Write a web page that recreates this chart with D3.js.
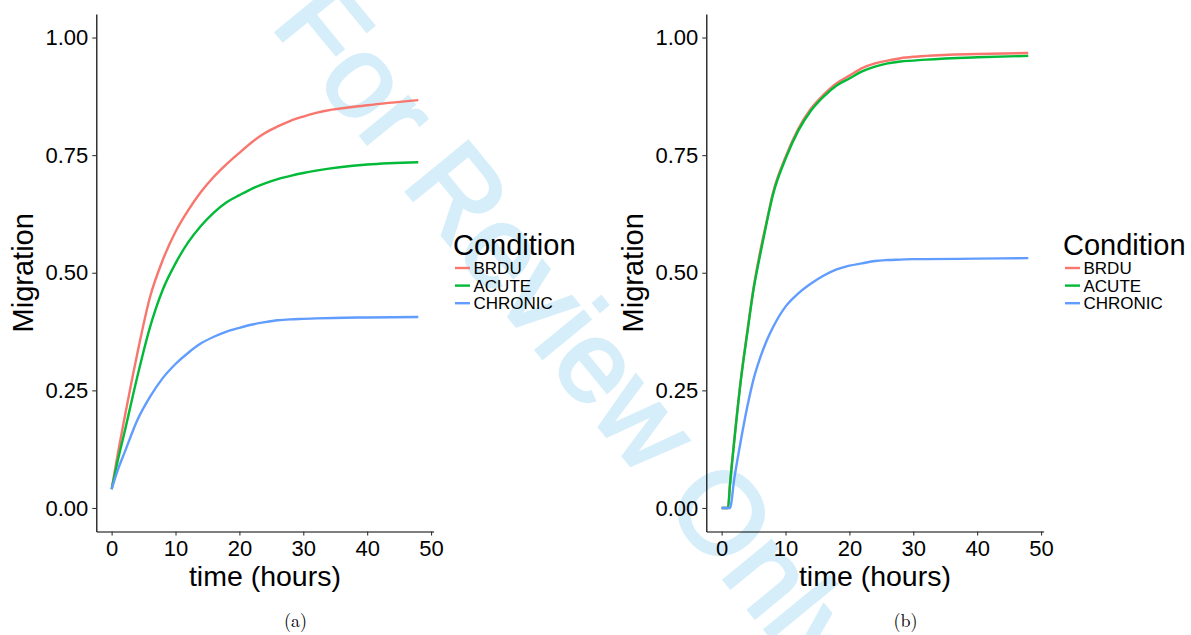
<!DOCTYPE html>
<html>
<head>
<meta charset="utf-8">
<script src="https://cdn.jsdelivr.net/npm/d3@7"></script>
<style>
  html, body { margin: 0; padding: 0; background: #fff; }
  svg { display: block; }
</style>
</head>
<body>
<script>
// ---------------- data ----------------
const conditions = ["BRDU", "ACUTE", "CHRONIC"];
const colors = ["#F8766D", "#00BA38", "#619CFF"];

// panel (a)
const timesA   = [0, 1, 2, 4, 6, 8, 10, 12, 14, 16, 18, 20, 22, 24, 26, 28, 30, 32, 40, 48];
const brduA    = [0.04, 0.118, 0.19, 0.327, 0.448, 0.527, 0.587, 0.633, 0.672, 0.704, 0.731, 0.755, 0.778, 0.797, 0.811, 0.823, 0.832, 0.840, 0.856, 0.867];
const acuteA   = [0.04, 0.103, 0.160, 0.278, 0.384, 0.464, 0.520, 0.565, 0.600, 0.628, 0.650, 0.665, 0.679, 0.690, 0.699, 0.706, 0.712, 0.717, 0.730, 0.735];
const chronicA = [0.04, 0.082, 0.117, 0.186, 0.236, 0.276, 0.306, 0.330, 0.350, 0.364, 0.375, 0.383, 0.390, 0.395, 0.399, 0.401, 0.402, 0.403, 0.405, 0.406];

// panel (b)
const timesB   = [0, 1, 1.3, 2, 3, 4, 5, 6, 7, 8, 10, 12, 14, 16, 18, 20, 22, 24, 26, 28, 30, 32, 40, 48];
const brduB    = [0, 0, 0.050, 0.148, 0.273, 0.374, 0.468, 0.543, 0.606, 0.668, 0.746, 0.806, 0.849, 0.879, 0.903, 0.919, 0.935, 0.945, 0.951, 0.956, 0.959, 0.961, 0.965, 0.967];
const acuteB   = [0, 0, 0.048, 0.145, 0.270, 0.370, 0.465, 0.536, 0.603, 0.664, 0.742, 0.802, 0.845, 0.875, 0.898, 0.913, 0.928, 0.938, 0.945, 0.949, 0.951, 0.953, 0.958, 0.961];
const chronicB = [0, 0, 0, 0.064, 0.143, 0.214, 0.274, 0.318, 0.354, 0.383, 0.428, 0.456, 0.477, 0.494, 0.507, 0.515, 0.520, 0.525, 0.527, 0.528, 0.529, 0.529, 0.530, 0.531];

const xTicks = [0, 10, 20, 30, 40, 50];
const yTicks = [0, 0.25, 0.5, 0.75, 1.0];
const xTitle = "time (hours)";
const yTitle = "Migration";
const legendTitle = "Condition";
const captions = ["(a)", "(b)"];
const watermark = "For Review Only";

// ---------------- drawing ----------------
const SANS = '"Liberation Sans", Arial, Helvetica, sans-serif';
const SERIF = '"Latin Modern Roman", "DejaVu Serif", "Liberation Serif", serif';
const W = 1191, H = 635;
const svg = d3.select("body").append("svg").attr("width", W).attr("height", H)
  .style("font-family", SANS);
svg.append("rect").attr("width", W).attr("height", H).attr("fill", "#fff");

// watermark (behind everything)
svg.append("text")
  .attr("transform", "translate(270,25) rotate(50.7)")
  .style("font-size", "116px")
  .style("font-family", SANS)
  .style("fill", "rgb(213,238,250)")
  .style("stroke", "rgb(213,238,250)")
  .style("stroke-width", "3px")
  .text(watermark);

const panels = [
  { dx: 0,   times: timesA, series: [brduA, acuteA, chronicA], caption: captions[0] },
  { dx: 610, times: timesB, series: [brduB, acuteB, chronicB], caption: captions[1] }
];

panels.forEach(p => {
  const g = svg.append("g").attr("transform", `translate(${p.dx},0)`);
  const x = d3.scaleLinear().domain([-2.4, 50.4]).range([96.3, 433.6]);
  const y = d3.scaleLinear().domain([-0.05, 1.05]).range([531.5, 14]);

  const line = d3.line().x(d => x(d[0])).y(d => y(d[1])).curve(d3.curveMonotoneX);
  p.series.forEach((vals, i) => {
    g.append("path")
      .datum(p.times.map((t, k) => [t, vals[k]]))
      .attr("fill", "none")
      .attr("stroke", colors[i])
      .attr("stroke-width", 2.4)
      .attr("stroke-linejoin", "round")
      .attr("d", line);
  });

  const yAxis = g.append("g").attr("transform", `translate(${x.range()[0]},0)`)
    .call(d3.axisLeft(y).tickValues(yTicks).tickFormat(d3.format(".2f")).tickSize(4).tickSizeOuter(0).tickPadding(4));
  const xAxis = g.append("g").attr("transform", `translate(0,${y.range()[0]})`)
    .call(d3.axisBottom(x).tickValues(xTicks).tickFormat(d3.format("d")).tickSize(4).tickSizeOuter(0).tickPadding(4.5));
  [xAxis, yAxis].forEach(a => {
    a.attr("font-family", null).attr("font-size", null);
    a.select(".domain").attr("stroke", "#000").attr("stroke-width", 1.2);
    a.selectAll(".tick line").attr("stroke", "#333").attr("stroke-width", 1.1);
    a.selectAll(".tick text").style("font-size", "22px").style("fill", "#000").style("font-family", SANS);
  });

  g.append("text").attr("x", (x.range()[0] + x.range()[1]) / 2).attr("y", 585.5)
    .attr("text-anchor", "middle").style("font-size", "28.5px").text(xTitle);
  g.append("text").attr("transform", `translate(33,${(y.range()[0] + y.range()[1]) / 2}) rotate(-90)`)
    .attr("text-anchor", "middle").style("font-size", "29px").text(yTitle);

  // legend
  const lg = g.append("g");
  lg.append("text").attr("x", 453).attr("y", 255.2).style("font-size", "29px").text(legendTitle);
  conditions.forEach((c, i) => {
    const ky = 268 + i * 17.6;
    lg.append("line").attr("x1", 455).attr("x2", 470).attr("y1", ky).attr("y2", ky)
      .attr("stroke", colors[i]).attr("stroke-width", 2.4);
    lg.append("text").attr("x", 473.5).attr("y", ky + 6.2).style("font-size", "17px").text(c);
  });

  g.append("text").attr("x", 295.5).attr("y", 627).attr("text-anchor", "middle")
    .style("font-size", "18px").style("font-family", SERIF)
    .text(p.caption);
});
</script>
</body>
</html>
